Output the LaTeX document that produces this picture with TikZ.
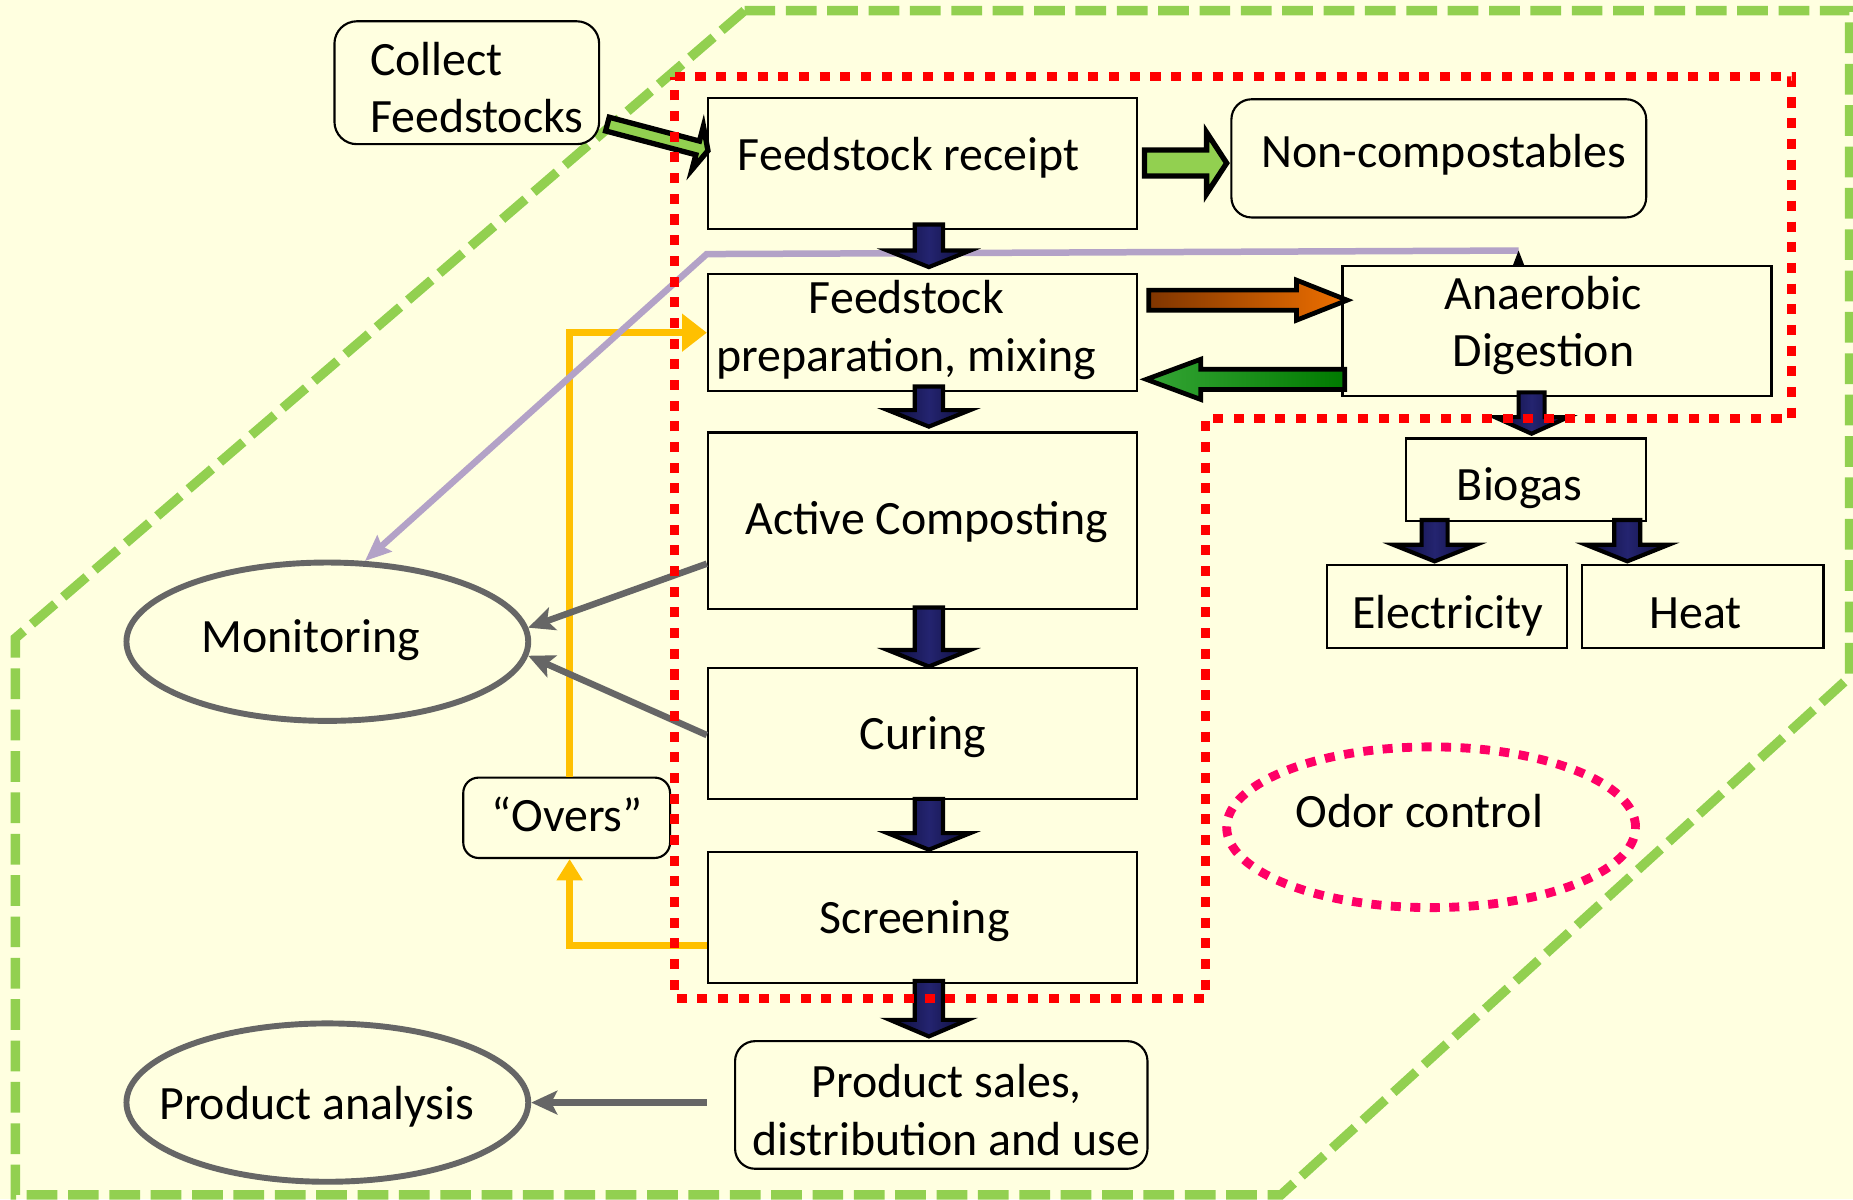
\documentclass[tikz,border=0pt]{standalone}
\usepackage{fontspec}
\setmainfont{Carlito}
\usetikzlibrary{arrows.meta,shapes.geometric,calc}
\definecolor{bg}{HTML}{FFFFE0}
\definecolor{lgreen}{HTML}{92D050}
\definecolor{reddot}{HTML}{FF0000}
\definecolor{odorc}{HTML}{FF0066}
\definecolor{lav}{HTML}{B3A2C7}
\definecolor{ylw}{HTML}{FFC000}
\definecolor{gry}{HTML}{666666}
\definecolor{navyD}{HTML}{0C0C38}
\definecolor{navyL}{HTML}{242470}
\definecolor{brownA}{HTML}{7F3500}
\definecolor{orangeA}{HTML}{F07000}
\definecolor{greenL}{HTML}{35A535}
\definecolor{greenD}{HTML}{007A00}
\tikzset{
  box/.style={draw=black, line width=1.8pt, fill=bg, inner sep=0pt},
  rbox/.style={box, rounded corners=17pt},
  txt/.style={inner sep=0pt, font=\fontsize{40.5}{48.5}\selectfont, text=black},
  oval/.style={ellipse, draw=gry, line width=5pt, fill=bg, inner sep=0pt},
  navyblk/.style={draw=black, line width=3.5pt, line join=miter, left color=navyD, right color=navyD, middle color=navyL},
  greenblk/.style={draw=black, line width=4.5pt, line join=miter, fill=lgreen},
  orangeblk/.style={draw=black, line width=4pt, line join=miter, left color=brownA, right color=orangeA},
  greengrad/.style={draw=black, line width=4pt, line join=miter, left color=greenL, right color=greenD},
  grayarr/.style={draw=gry, line width=5.5pt, -{Stealth[length=22pt,width=20pt,inset=5pt]}},
  yelline/.style={draw=ylw, line width=5.5pt},
  lavline/.style={draw=lav, line width=5.5pt},
}
\newcommand\navyarr[5]{% x, ytop, ytip, shaft half, head half
  \draw[navyblk] (#1-#4,#2) -- (#1+#4,#2) -- (#1+#4,#3-14) -- (#1+#5,#3-14) -- (#1,#3)
    -- (#1-#5,#3-14) -- (#1-#4,#3-14) -- cycle;}
\begin{document}
\begin{tikzpicture}[x=1pt, y=-1pt]
\useasboundingbox (0,0) rectangle (1568,1014.6);
\fill[bg] (0,0) rectangle (1568,1014.6);

% outer green dashed boundary
\draw[lgreen, line width=8pt, dash pattern=on 26pt off 9pt, line join=miter]
  (630,9) -- (1565,9) -- (1565,573) -- (1084,1011) -- (13,1011) -- (13,540) -- cycle;

% boxes
\node[rbox, minimum width=224pt, minimum height=104pt, rounded corners=19pt] (collect) at (395,70) {};
\node[box, minimum width=363pt, minimum height=111pt] (receipt) at (780.5,138.5) {};
\node[rbox, minimum width=351pt, minimum height=100pt] (noncomp) at (1217.5,134) {};
\node[box, minimum width=363pt, minimum height=99pt] (prep) at (780.5,281.5) {};
\node[box, minimum width=363pt, minimum height=110pt] (ad) at (1317.5,280) {};
\node[box, minimum width=363pt, minimum height=149pt] (active) at (780.5,440.5) {};
\node[box, minimum width=363pt, minimum height=111pt] (curing) at (780.5,620.5) {};
\node[box, minimum width=363pt, minimum height=111pt] (screening) at (780.5,776.5) {};
\node[rbox, minimum width=349pt, minimum height=108pt] (product) at (796.5,935) {};
\node[box, minimum width=203pt, minimum height=70pt] (biogas) at (1291.5,406) {};
\node[box, minimum width=203pt, minimum height=70pt] (elec) at (1224.5,513) {};
\node[box, minimum width=204pt, minimum height=70pt] (heat) at (1441,513) {};
\node[rbox, minimum width=175pt, minimum height=68pt, rounded corners=13pt] (overs) at (479.5,692) {};
\node[oval, minimum width=340pt, minimum height=134pt] (monitor) at (277,543) {};
\node[oval, minimum width=340pt, minimum height=134pt] (analysis) at (277,933) {};

% yellow "overs" loop
\draw[yelline, -{Triangle[length=18pt,width=21pt]}]
  ($(screening.west)+(0,23.5)$) -| ($(overs.south)+(2.5,0)$);
\draw[yelline, -{Triangle[length=21pt,width=31pt]}]
  ($(overs.north)+(2.5,0)$) |- (prep.west);

% lavender monitoring line
\coordinate (lavstart) at (1285,212);
\coordinate (lavbend) at (598,215);
\draw[lavline, -{Stealth[length=22pt,width=18pt,inset=3pt]}] (lavstart) -- (lavbend) -- (monitor.65);
\fill[black] (1280,225) -- (1290,225) -- (1285,212) -- cycle;

% gray arrows to monitoring / analysis
\draw[grayarr] ($(active.west)+(0,36.5)$) -- (monitor.4);
\draw[grayarr] ($(curing.west)+(0,1.5)$) -- (monitor.-4);
\draw[grayarr, line width=6pt] ($(product.west)+(-23,-2)$) -- (analysis.east);

% block arrows
\begin{scope}[shift={(514,105)}, rotate=-14.8]
  \draw[greenblk] (0,-6) -- (79,-6) -- (79,-19) -- (88,0) -- (79,19) -- (79,6) -- (0,6) -- cycle;
\end{scope}
\draw[greenblk] (968.5,127) -- (1021,127) -- (1021,112) -- (1038,138) -- (1021,164) -- (1021,149) -- (968.5,149) -- cycle;
\draw[orangeblk] (972,245.5) -- (1097,245.5) -- (1097,237) -- (1140,254) -- (1097,271) -- (1097,262.5) -- (972,262.5) -- cycle;
\draw[greengrad] (1138,312.5) -- (1016,312.5) -- (1016,304) -- (970,321) -- (1016,338) -- (1016,329.5) -- (1138,329.5) -- cycle;

\navyarr{786}{190}{226}{12}{35}
\navyarr{786}{327}{361}{12}{35}
\navyarr{786}{514}{564}{12}{35}
\navyarr{786}{676}{719}{12}{35}
\navyarr{786}{830}{877}{12}{33}
\navyarr{1296}{332}{367}{11}{31}
\navyarr{1214}{440}{475}{11}{35}
\navyarr{1377}{440}{475}{11}{35}

% red dotted process boundary
\draw[reddot, line width=7.5pt, dash pattern=on 8.5pt off 9pt]
  (571,65) -- (1516,65) -- (1516,354) -- (1020,354) -- (1020,845) -- (571,845) -- cycle;

% odor control
\node[ellipse, draw=odorc, line width=7.5pt, dash pattern=on 8.5pt off 8pt, minimum width=346pt, minimum height=136pt, inner sep=0pt] (odor) at (1211,700) {};

% texts (anchor=base of multi-line nodes is the last line's baseline)
\node[txt, anchor=base west, align=left] (tcollect) at (313,112) {Collect\\Feedstocks};
\node[txt, anchor=base] (treceipt) at (769,144) {Feedstock receipt};
\node[txt, anchor=base] (tnoncomp) at (1222,141.5) {Non-compostables};
\node[txt, anchor=base, align=center] (tprep) at (767,314) {Feedstock\\preparation, mixing};
\node[txt, anchor=base, align=center] (tad) at (1306,310) {Anaerobic\\Digestion};
\node[txt, anchor=base] (tactive) at (784,452) {Active Composting};
\node[txt, anchor=base] (tcuring) at (781,634) {Curing};
\node[txt, anchor=base] (tscreen) at (774,790) {Screening};
\node[txt, anchor=base, align=center] (tproduct) at (801,977.5) {Product sales,\\distribution and use};
\node[txt, anchor=base] (tbiogas) at (1286,423.5) {Biogas};
\node[txt, anchor=base] (telec) at (1225,532) {Electricity};
\node[txt, anchor=base] (theat) at (1435,532) {Heat};
\node[txt, anchor=base] (tmonitor) at (263,552) {Monitoring};
\node[txt, anchor=base] (tovers) at (480,704) {“Overs”};
\node[txt, anchor=base] (tanalysis) at (268,947) {Product analysis};
\node[txt, anchor=base] (todor) at (1201,700) {Odor control};
\end{tikzpicture}
\end{document}
